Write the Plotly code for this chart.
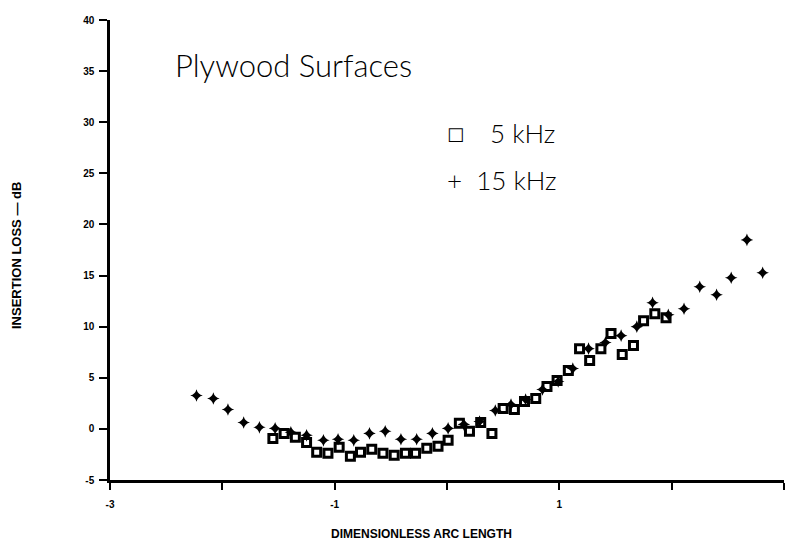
import plotly.graph_objects as go

# 5 kHz (open squares)
x_5khz = [-1.55, -1.45, -1.35, -1.25, -1.16, -1.06, -0.96, -0.86, -0.77, -0.67,
          -0.57, -0.47, -0.37, -0.28, -0.18, -0.08, 0.01, 0.11, 0.20, 0.30,
          0.40, 0.50, 0.60, 0.69, 0.79, 0.89, 0.98, 1.08, 1.18, 1.27,
          1.37, 1.46, 1.56, 1.66, 1.75, 1.85, 1.95]
y_5khz = [-0.93, -0.44, -0.83, -1.32, -2.29, -2.39, -1.80, -2.68, -2.29, -2.00,
          -2.39, -2.59, -2.39, -2.39, -1.90, -1.71, -1.12, 0.54, -0.24, 0.63,
          -0.44, 2.00, 1.90, 2.68, 2.98, 4.15, 4.73, 5.71, 7.85, 6.68,
          7.85, 9.32, 7.27, 8.15, 10.59, 11.27, 10.88]

# 15 kHz (plus markers)
x_15khz = [-2.23, -2.08, -1.95, -1.81, -1.67, -1.53, -1.39, -1.25, -1.10, -0.97,
           -0.83, -0.69, -0.55, -0.41, -0.27, -0.13, 0.01, 0.15, 0.29, 0.43,
           0.57, 0.70, 0.85, 0.99, 1.12, 1.26, 1.41, 1.55, 1.69, 1.83,
           1.97, 2.11, 2.25, 2.40, 2.53, 2.67, 2.81]
y_15khz = [3.27, 2.98, 1.90, 0.63, 0.15, 0.05, -0.34, -0.63, -1.12, -1.02,
           -1.12, -0.44, -0.24, -1.02, -1.02, -0.44, 0.05, 0.44, 0.73, 1.80,
           2.39, 2.88, 3.85, 4.63, 5.90, 7.85, 8.44, 9.12, 10.0, 12.34,
           11.17, 11.76, 13.90, 13.12, 14.78, 18.49, 15.27]

x_ticks = [-3, -2, -1, 0, 1, 2, 3]
x_tick_labels = ["-3", "", "-1", "", "1", "", "3"]
y_ticks = [-5, 0, 5, 10, 15, 20, 25, 30, 35, 40]
y_tick_labels = ["-5", "0", "5", "10", "15", "20", "25", "30", "35", "40"]

fig = go.Figure()
fig.add_trace(go.Scatter(
    x=x_15khz, y=y_15khz, mode="markers", name="15 kHz",
    marker=dict(symbol="star-diamond", size=9, color="black",
                line=dict(width=0)),
))
fig.add_trace(go.Scatter(
    x=x_5khz, y=y_5khz, mode="markers", name="5 kHz",
    marker=dict(symbol="square-open", size=8, color="black",
                line=dict(width=3, color="black")),
))

tickfont = dict(family="Liberation Sans", size=10, color="black", weight="bold")

fig.update_xaxes(
    range=[-3, 3], tickvals=x_ticks, ticktext=x_tick_labels,
    showgrid=False, zeroline=False, showline=True, linecolor="black",
    linewidth=2.5, ticks="outside", ticklen=7, tickwidth=2, tickcolor="black",
    tickfont=tickfont, ticklabelstandoff=6,
)
fig.update_yaxes(
    range=[-5, 40], tickvals=y_ticks, ticktext=y_tick_labels,
    showgrid=False, zeroline=False, showline=True, linecolor="black",
    linewidth=2.5, ticks="outside", ticklen=8, tickwidth=2, tickcolor="black",
    tickfont=tickfont, ticklabelstandoff=3,
)

annots = [
    dict(text="Plywood Surfaces", x=173, y=65, xanchor="left", yanchor="middle",
         font=dict(family="Lato", size=31, color="black", weight=300)),
    dict(text="□", x=445, y=133, xanchor="left", yanchor="middle",
         font=dict(family="DejaVu Sans", size=18, color="black")),
    dict(text="5 kHz", x=488, y=133, xanchor="left", yanchor="middle",
         font=dict(family="Lato", size=26, color="black", weight=300)),
    dict(text="+  15 kHz", x=445, y=180, xanchor="left", yanchor="middle",
         font=dict(family="Lato", size=26, color="black", weight=300)),
    dict(text="DIMENSIONLESS ARC LENGTH", x=421, y=534, xanchor="center",
         yanchor="middle",
         font=dict(family="Liberation Sans", size=12, color="black", weight="bold")),
    dict(text="INSERTION LOSS — dB", x=16, y=255, xanchor="center",
         yanchor="middle", textangle=-90,
         font=dict(family="Liberation Sans", size=13, color="black", weight="bold")),
]
fig.update_layout(
    width=785, height=541,
    margin=dict(l=110, r=1, t=20, b=61),
    paper_bgcolor="white", plot_bgcolor="white",
    showlegend=False,
)
for a in annots:
    fig.add_annotation(
        text=a["text"], xref="paper", yref="paper",
        x=(a["x"] - 110) / 674.0, y=(480 - a["y"]) / 460.0,
        xanchor=a["xanchor"], yanchor=a["yanchor"],
        textangle=a.get("textangle", 0), font=a["font"], showarrow=False,
    )

fig.write_html("out.html")
